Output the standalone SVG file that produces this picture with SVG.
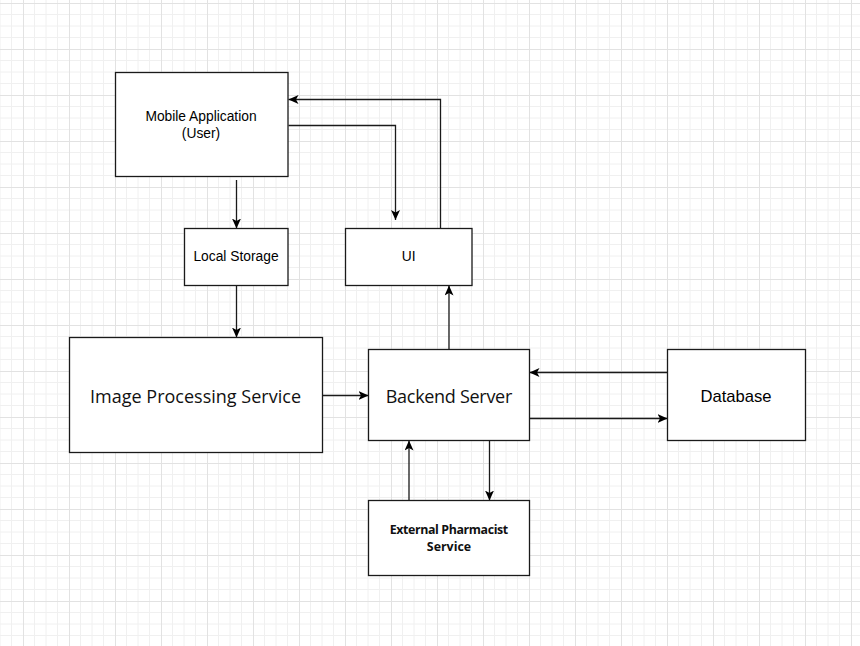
<svg xmlns="http://www.w3.org/2000/svg" width="860" height="646" viewBox="0 0 860 646">
  <defs>
    <!-- background grid: minor every 11.5px, major every 46px -->
    <pattern id="grid" patternUnits="userSpaceOnUse" x="23" y="3" width="46" height="46">
      <path d="M11.5,0 V46 M23,0 V46 M34.5,0 V46 M0,11.5 H46 M0,23 H46 M0,34.5 H46" stroke="#f0f0f0" stroke-width="1" fill="none"/>
      <path d="M0.5,0 V46 M0,0.5 H46" stroke="#e2e2e2" stroke-width="1" fill="none"/>
    </pattern>
    <marker id="arrow" markerUnits="userSpaceOnUse" markerWidth="11" markerHeight="10" refX="10" refY="4.5" orient="auto">
      <path d="M0,0 L10,4.5 L0,9 L2.5,4.5 Z" fill="#000"/>
    </marker>
    <style>
      .box { fill: #fff; stroke: #1a1a1a; stroke-width: 1.3; }
      .edge { fill: none; stroke: #1a1a1a; stroke-width: 1.3; marker-end: url(#arrow); }
      .arial { font-family: "Liberation Sans", Arial, sans-serif; fill: #000; text-anchor: middle; }
      .gothic { font-family: "Open Sans", "Noto Sans", sans-serif; fill: #111; text-anchor: middle; }
    </style>
  </defs>

  <rect width="860" height="646" fill="#fff"/>
  <rect width="860" height="646" fill="url(#grid)"/>

  <g id="connectors">
    <path class="edge" d="M236.5,180 V228.5"/>
    <path class="edge" d="M288.5,125.5 H395.5 V220"/>
    <path class="edge" d="M440.5,228.5 V99.5 H288.5"/>
    <path class="edge" d="M236.5,285.5 V337.5"/>
    <path class="edge" d="M322.5,395.5 H368.5"/>
    <path class="edge" d="M449,349.5 V285.5"/>
    <path class="edge" d="M667.5,372.5 H529.5"/>
    <path class="edge" d="M529.5,418.5 H667.5"/>
    <path class="edge" d="M409,500.5 V440.5"/>
    <path class="edge" d="M489.5,440.5 V500.5"/>
  </g>

  <g id="mobile-app">
    <rect class="box" x="115.5" y="72.5" width="172.5" height="104"/>
    <text class="arial" x="201" y="121" font-size="13.8">Mobile Application</text>
    <text class="arial" x="201" y="137.5" font-size="13.8">(User)</text>
  </g>

  <g id="local-storage">
    <rect class="box" x="184.5" y="228.5" width="103.5" height="57"/>
    <text class="arial" x="236" y="261" font-size="13.8">Local Storage</text>
  </g>

  <g id="ui">
    <rect class="box" x="345.5" y="228.5" width="126.5" height="57"/>
    <text class="arial" x="408.7" y="261" font-size="13.8">UI</text>
  </g>

  <g id="image-processing">
    <rect class="box" x="69.5" y="337.5" width="253" height="115"/>
    <text class="gothic" x="195.5" y="402.7" font-size="18" textLength="211" lengthAdjust="spacing">Image Processing Service</text>
  </g>

  <g id="backend-server">
    <rect class="box" x="368.5" y="349.5" width="161" height="91"/>
    <text class="gothic" x="449" y="402.7" font-size="18" textLength="126.5" lengthAdjust="spacing">Backend Server</text>
  </g>

  <g id="database">
    <rect class="box" x="667.5" y="349.5" width="138" height="91"/>
    <text class="arial" x="736" y="401.7" font-size="16.6">Database</text>
  </g>

  <g id="external-pharmacist">
    <rect class="box" x="368.5" y="500.5" width="161" height="75"/>
    <text class="gothic" x="449" y="534.3" font-size="12.4" font-weight="bold" textLength="118.5" lengthAdjust="spacing">External Pharmacist</text>
    <text class="gothic" x="449" y="551.3" font-size="12.4" font-weight="bold">Service</text>
  </g>
</svg>
